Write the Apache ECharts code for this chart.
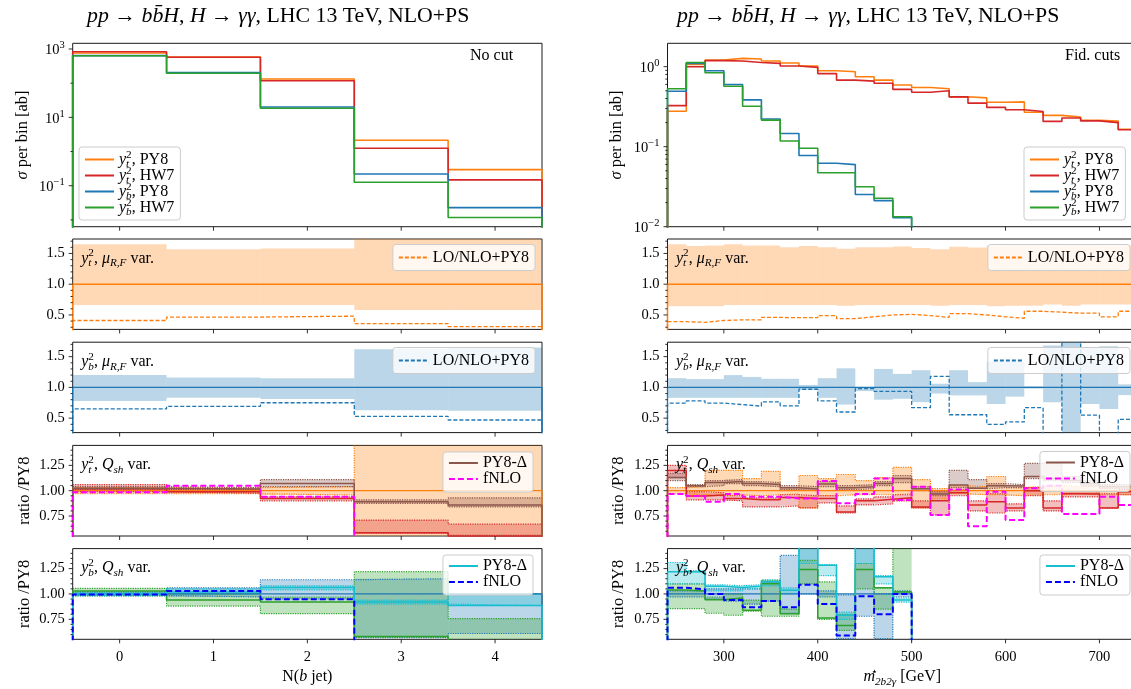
<!DOCTYPE html>
<html><head><meta charset="utf-8">
<script src="https://cdn.jsdelivr.net/npm/echarts@6/dist/echarts.min.js"></script>
<style>html,body{margin:0;padding:0;background:#fff}#c{width:1131px;height:689px}</style>
</head><body><div id="c"></div>
<script>
// ---------------- DATA ----------------
const L_EDGES = [-0.5, 0.5, 1.5, 2.5, 3.5, 4.5];
const R_EDGES = [240,260,280,300,320,340,360,380,400,420,440,460,480,500,520,540,560,580,600,620,640,660,680,700,720,740];
const R5_EDGES = [240,260,280,300,320,340,360,380,400,420,440,460,480,500];
const L_XTICKS = [0, 1, 2, 3, 4];
const R_XTICKS = [300, 400, 500, 600, 700];
const Y_TICKS_MU = [0.5, 1.0, 1.5];
const Y_TICKS_QSH = [0.75, 1.00, 1.25];

// panel 1 (sigma per bin)
const L1_yt_py8 = [760, 580, 133, 2.14, 0.295];
const L1_yt_hw7 = [830, 571, 118, 1.25, 0.148];
const L1_yb_py8 = [640, 203, 20.1, 0.221, 0.0229];
const L1_yb_hw7 = [635, 195, 18.5, 0.126, 0.0117];
const R1_yt_py8 = [0.277,1.07,1.21,1.27,1.25,1.18,1.11,1.02,0.89,0.865,0.75,0.68,0.59,0.55,0.53,0.42,0.407,0.36,0.363,0.27,0.246,0.234,0.214,0.209,0.165];
const R1_yt_hw7 = [0.326,1.00,1.19,1.18,1.13,1.10,1.02,0.98,0.82,0.68,0.66,0.62,0.52,0.48,0.50,0.42,0.35,0.31,0.29,0.275,0.207,0.228,0.21,0.20,0.163];
const R1_yb_py8 = [0.494,1.10,0.89,0.60,0.385,0.222,0.146,0.0775,0.062,0.0597,0.0253,0.0212,0.013,0,0,0,0,0,0,0,0,0,0,0,0];
const R1_yb_hw7 = [0.529,1.13,0.84,0.57,0.32,0.215,0.118,0.0957,0.0473,0.0473,0.0316,0.0227,0.0133,0,0,0,0,0,0,0,0,0,0,0,0];

// panel 2 (y_t^2 mu_RF variation)
const L2_ref = [1,1,1,1,1];
const L2_lo = [0.66,0.66,0.66,0.58,0.58];
const L2_hi = [1.65,1.57,1.58,1.80,1.80];
const L2_lonlo = [0.41,0.466,0.48,0.36,0.31];
const R2_ref = [1,1,1,1,1,1,1,1,1,1,1,1,1,1,1,1,1,1,1,1,1,1,1,1,1];
const R2_lo = [0.64,0.64,0.64,0.66,0.66,0.66,0.66,0.66,0.66,0.65,0.66,0.66,0.66,0.66,0.65,0.66,0.66,0.64,0.65,0.65,0.67,0.65,0.67,0.67,0.67];
const R2_hi = [1.65,1.62,1.63,1.65,1.63,1.63,1.60,1.62,1.60,1.575,1.60,1.60,1.615,1.59,1.57,1.61,1.595,1.63,1.64,1.64,1.63,1.64,1.65,1.63,1.63];
const R2_lonlo = [0.39,0.38,0.41,0.42,0.42,0.46,0.455,0.455,0.49,0.44,0.47,0.50,0.51,0.49,0.46,0.52,0.50,0.47,0.446,0.56,0.544,0.53,0.53,0.47,0.56];

// panel 3 (y_b^2 mu_RF variation)
const L3_ref = [1,1,1,1,1];
const L3_lo = [0.78,0.83,0.81,0.63,0.62];
const L3_hi = [1.20,1.16,1.15,1.62,1.65];
const L3_lonlo = [0.65,0.69,0.75,0.53,0.47];
const R3_ref = [1,1,1,1,1,1,1,1,1,1,1,1,1,1,1,1,1,1,1,1,1,1,1,1,1];
const R3_lo = [0.83,0.83,0.83,0.83,0.83,0.83,0.83,0.96,0.83,0.72,0.94,0.80,0.815,0.76,0.90,0.87,0.87,0.73,0.85,0.98,0.76,-1.0,0.73,0.65,0.875];
const R3_hi = [1.15,1.135,1.135,1.20,1.17,1.14,1.14,1.04,1.15,1.31,1.0,1.30,1.22,1.28,1.06,1.28,1.086,1.42,1.42,1.02,1.68,3.0,1.64,1.67,1.05];
const R3_lonlo = [0.745,0.78,0.745,0.72,0.695,0.766,0.70,0.97,0.78,0.60,0.98,0.935,0.935,0.67,1.18,0.555,0.555,0.40,0.44,0.67,0.1,3.0,0.55,0.1,0.48];

// panel 4 (y_t^2 Q_sh variation)
const L4_ref = [1,1,1,1,1];
const L4_orLo = [0.97,0.97,0.957,0.0,0.0];
const L4_orHi = [1.03,1.03,1.04,3.0,3.0];
const L4_hw7 = [1.02,0.99,0.924,0.585,0.55];
const L4_hw7Lo = [0.99,0.975,0.90,0.58,0.56];
const L4_hw7Hi = [1.06,1.01,0.94,0.71,0.67];
const L4_d = [1.023,1.016,1.07,0.89,0.86];
const L4_dLo = [1.01,1.0,1.04,0.875,0.84];
const L4_dHi = [1.04,1.03,1.11,0.91,0.93];
const L4_fnlo = [0.985,1.05,0.94,0.40,0.40];
const R4_ref = [1,1,1,1,1,1,1,1,1,1,1,1,1,1,1,1,1,1,1,1,1,1,1,1,1];
const R4_orLo = [0.97,0.96,0.95,0.96,0.95,0.96,0.97,0.83,0.95,0.96,0.96,0.96,0.97,0.83,0.92,0.97,0.96,0.96,0.95,0.96,0.96,0.97,0.96,0.96,0.96];
const R4_orHi = [1.03,1.04,1.20,1.20,1.12,1.19,1.03,1.15,1.12,1.16,1.10,1.13,1.23,1.11,1.02,1.05,1.04,1.14,1.03,1.04,1.05,1.04,1.05,1.04,1.03];
const R4_hw7 = [1.20,0.947,0.957,0.924,0.91,0.91,0.934,0.924,0.924,0.79,0.90,0.915,0.93,0.84,0.90,0.98,0.86,0.89,0.83,1.00,0.83,0.97,0.967,0.83,0.99];
const R4_hw7Lo = [1.13,0.91,0.91,0.90,0.84,0.84,0.85,0.83,0.88,0.78,0.86,0.87,0.90,0.83,0.76,0.95,0.80,0.78,0.80,0.95,0.80,0.94,0.94,0.83,0.96];
const R4_hw7Hi = [1.25,0.99,0.98,0.95,0.93,0.93,0.96,0.95,0.95,0.85,0.92,0.94,0.96,0.90,1.00,1.01,0.90,0.97,0.87,1.03,0.90,1.00,0.99,0.97,1.01];
const R4_d = [1.13,1.05,1.08,1.09,1.07,1.06,1.03,1.016,1.066,1.03,1.04,1.07,1.12,1.02,0.967,1.056,1.023,1.05,1.046,1.14,1.12,1.10,1.07,1.04,1.04];
const R4_dLo = [1.10,1.04,1.05,1.07,1.05,1.04,1.01,1.00,1.04,1.01,1.02,1.05,1.08,1.00,0.95,1.03,1.02,1.03,1.03,1.12,1.10,1.08,1.05,1.02,1.02];
const R4_dHi = [1.17,1.06,1.10,1.11,1.09,1.08,1.05,1.04,1.09,1.05,1.06,1.09,1.15,1.04,0.99,1.20,1.11,1.07,1.06,1.27,1.27,1.14,1.10,1.06,1.06];
const R4_fnlo = [0.967,0.947,0.89,0.967,0.94,0.94,0.924,0.924,1.095,0.875,0.967,1.12,0.908,1.04,0.76,1.013,0.65,0.99,0.71,1.023,1.05,0.77,0.77,0.94,0.86];

// panel 5 (y_b^2 Q_sh variation)
const L5_ref = [1,1,1,1,1];
const L5_blLo = [0.985,0.97,0.95,0.57,0.61];
const L5_blHi = [1.02,1.06,1.14,1.15,1.0];
const L5_hw7 = [1.03,0.94,0.92,0.58,0.50];
const L5_hw7Lo = [0.98,0.88,0.806,0.575,0.50];
const L5_hw7Hi = [1.055,1.0,0.97,1.22,0.757];
const L5_d = [1.0,1.02,1.063,0.92,0.885];
const L5_dLo = [0.98,1.0,1.04,0.90,0.885];
const L5_dHi = [1.02,1.05,1.08,0.94,1.0];
const L5_fnlo = [0.995,1.03,0.947,0.40,0.40];
const R5_ref = [1,1,1,1,1,1,1,1,1,1,1,1,1];
const R5_blLo = [0.97,0.97,0.95,0.93,0.90,0.93,0.81,1.0,0.97,0.56,0.78,0.56,0.97];
const R5_blHi = [1.03,1.03,1.05,1.05,1.05,1.12,1.38,1.6,1.03,0.99,1.6,1.0,1.03];
const R5_hw7 = [1.04,1.03,0.944,0.96,0.84,1.10,0.806,1.24,0.763,0.69,1.24,1.06,1.02];
const R5_hw7Lo = [0.855,0.855,0.81,0.79,0.83,0.78,0.78,1.10,0.75,0.64,1.05,0.85,1.02];
const R5_hw7Hi = [1.10,1.10,0.97,1.0,0.94,1.135,0.85,1.33,1.12,0.80,1.30,1.06,1.6];
const R5_d = [1.22,1.217,1.076,1.063,1.076,1.12,1.036,1.6,1.283,0.79,1.6,1.17,0.94];
const R5_dLo = [1.10,1.10,1.03,1.03,1.05,1.08,1.0,1.30,1.18,0.75,1.30,1.10,0.92];
const R5_dHi = [1.31,1.23,1.09,1.08,1.09,1.14,1.06,1.6,1.29,0.82,1.6,1.18,0.96];
const R5_fnlo = [1.06,1.046,1.0,0.94,0.87,0.93,0.87,1.09,0.90,0.59,0.977,0.80,1.0];

// ---------------- STYLE / LAYOUT ----------------
const FONT = "'Liberation Serif', 'DejaVu Serif', serif";
const C = {orange:'#ff7f0e', red:'#d62728', blue:'#1f77b4', green:'#2ca02c', brown:'#8c564b', magenta:'#ff00ff', cyan:'#17becf', fblue:'#0000ff'};
function rgba(hex, a){const n=parseInt(hex.slice(1),16);return 'rgba('+(n>>16&255)+','+(n>>8&255)+','+(n&255)+','+a+')';}
function mkRich(fs, lh){
  const sfs = Math.round(fs*0.7*10)/10;
  const base = {fontFamily:FONT, fontWeight:'normal', color:'#000', lineHeight:lh};
  return {
    n: Object.assign({}, base, {fontSize:fs}),
    i: Object.assign({}, base, {fontSize:fs, fontStyle:'italic'}),
    sb0: Object.assign({}, base, {fontSize:sfs, fontStyle:'italic', verticalAlign:'bottom', width:0}),
    sb: Object.assign({}, base, {fontSize:sfs, fontStyle:'italic', verticalAlign:'bottom'}),
    sp: Object.assign({}, base, {fontSize:sfs, verticalAlign:'top'}),
    sp0: Object.assign({}, base, {fontSize:sfs, verticalAlign:'top', width:0})
  };
}
const RICH16 = mkRich(16, 21);
const RICH21 = mkRich(21.8, 26);
const COLX = [{left:72.7, width:469.3, min:-0.5, max:4.5, ticks:L_XTICKS},
              {left:667.5, width:469.5, min:240, max:740, ticks:R_XTICKS}];
const ROWY = [{top:43.3,height:183.4},{top:239,height:90.4},{top:342.2,height:90.4},{top:445.4,height:90.6},{top:548.6,height:90.7}];
const g = (c, r) => c*5 + r;

const grids=[], xAxes=[], yAxes=[], series=[], legends=[], titles=[];
function logLabel(oddOnly){
  return function(v){
    const e = Math.log10(v), r = Math.round(e);
    if (Math.abs(e-r) > 0.02) return '';
    if (oddOnly && Math.abs(r)%2 === 0) return '';
    return '{b|10}{s|' + (r<0?'−':'') + Math.abs(r) + '}';
  };
}
const YRANGE = [
  [{min:0.00632, max:1468}, {min:0.01, max:1.96}],
  [{min:0.265, max:1.735}, {min:0.265, max:1.735}],
  [{min:0.265, max:1.735}, {min:0.265, max:1.735}],
  [{min:0.553, max:1.447}, {min:0.553, max:1.447}],
  [{min:0.553, max:1.447}, {min:0.553, max:1.447}]
];

function tickSeries(gi, items){
  series.push({type:'custom', xAxisIndex:gi, yAxisIndex:gi, silent:true, clip:false, z:10, animation:false,
    data:items, encode:{x:0, y:1},
    renderItem:function(params, api){
      const c = api.coord([api.value(0), api.value(1)]);
      const d = api.value(2), L = api.value(3);
      const shape = d === 0 ? {x1:c[0]-L, y1:c[1], x2:c[0], y2:c[1]} : {x1:c[0], y1:c[1], x2:c[0], y2:c[1]+L};
      return {type:'line', shape:shape, style:{stroke:'#1a1a1a', lineWidth:0.9}};
    }});
}

for (let c = 0; c < 2; c++) {
  for (let r = 0; r < 5; r++) {
    const gi = g(c, r);
    const cx = COLX[c], ry = ROWY[r], yr = YRANGE[r][c];
    grids.push({left:cx.left, width:cx.width, top:ry.top, height:ry.height, show:true,
      borderColor:'#1a1a1a', borderWidth:1, backgroundColor:'transparent', containLabel:false, outerBoundsMode:'none'});
    const xa = {gridIndex:gi, type:'value', min:cx.min, max:cx.max,
      axisLine:{show:false}, axisTick:{show:false}, splitLine:{show:false},
      axisLabel:{show:r===4, customValues:cx.ticks, margin:10, fontSize:14.5, fontFamily:FONT, color:'#000',
        formatter:function(v){return String(v);}}};
    if (r === 4) {
      xa.name = c === 0 ? '{n|N(}{i|b}{n| jet)}' : '{i|m}{sp0|⋆}{sb|2b2γ}{n| [GeV]}';
      xa.nameLocation = 'middle'; xa.nameGap = 27;
      xa.nameTextStyle = {fontFamily:FONT, fontSize:16, color:'#000', rich:RICH16};
    }
    xAxes.push(xa);
    const ya = {gridIndex:gi, min:yr.min, max:yr.max, axisLine:{show:false}, axisTick:{show:false}, splitLine:{show:false}};
    if (r === 0) {
      ya.type = 'log'; ya.logBase = 10;
      ya.axisLabel = {margin:8, fontFamily:FONT, color:'#000', formatter:logLabel(c===0),
        rich:{b:{fontSize:14.5, fontFamily:FONT, color:'#000', lineHeight:18, verticalAlign:'bottom'},
              s:{fontSize:10.5, fontFamily:FONT, color:'#000', lineHeight:18, verticalAlign:'top'}}};
      ya.name = '{i|σ}{n| per bin [ab]}';
    } else {
      ya.type = 'value';
      const tv = r <= 2 ? Y_TICKS_MU : Y_TICKS_QSH;
      ya.splitNumber = 3;
      ya.axisLabel = {customValues:tv, margin:8, fontSize:14.5, fontFamily:FONT, color:'#000',
        formatter:function(v){return v.toFixed(r<=2?1:2);}};
      if (r >= 3) ya.name = 'ratio /PY8';
    }
    if (ya.name) {
      ya.nameLocation = 'middle'; ya.nameGap = 40; ya.nameRotate = 90;
      ya.nameTextStyle = {fontFamily:FONT, fontSize:16.5, color:'#000', rich:mkRich(16.5, 21)};
    }
    yAxes.push(ya);

    // ticks
    const items = [];
    const ymin = yr.min, xmin = cx.min;
    cx.ticks.forEach(t => items.push([t, ymin, 1, 4]));
    if (r === 0) {
      for (let e = -3; e <= 3; e++) {
        const major = c === 0 ? (Math.abs(e)%2 === 1) : true;
        const v0 = Math.pow(10, e);
        if (v0 >= yr.min && v0 <= yr.max) items.push([xmin, v0, 0, major ? 4 : 2.2]);
        if (c === 1) for (let k = 2; k <= 9; k++) { const v = k*v0; if (v > yr.min && v < yr.max) items.push([xmin, v, 0, 2.2]); }
      }
    } else {
      const tv = r <= 2 ? Y_TICKS_MU : Y_TICKS_QSH;
      tv.forEach(t => items.push([xmin, t, 0, 4]));
      const step = r <= 2 ? 0.1 : 0.05;
      for (let k = Math.ceil(yr.min/step); k*step < yr.max; k++) {
        const v = Math.round(k*step*1000)/1000;
        if (tv.some(t => Math.abs(t-v) < 1e-6)) continue;
        items.push([xmin, v, 0, 2.2]);
      }
    }
    tickSeries(gi, items);
  }
}

// ---------------- SERIES HELPERS ----------------
function stepSeries(gi, name, edges, vals, color, o){
  o = o || {};
  const n = vals.length;
  const fix = v => (o.log ? (v > 0 ? v : 1e-6) : v);
  const pts = [];
  if (o.base != null) pts.push([edges[0], o.base]);
  for (let i = 0; i < n; i++) pts.push([edges[i], fix(vals[i])]);
  pts.push([edges[n], fix(vals[n-1])]);
  if (o.base != null) pts.push([edges[n], o.base]);
  const s = {type:'line', xAxisIndex:gi, yAxisIndex:gi, data:pts, step:'end', symbol:'none', showSymbol:false,
    silent:true, clip:true, z:o.z || 3, animation:false, itemStyle:{color:color},
    lineStyle:{color:color, width:o.width || 1.5, type:o.type || 'solid'}, emphasis:{disabled:true}};
  if (name) s.name = name;
  series.push(s);
}
function bandSeries(gi, edges, lo, hi, fill){
  series.push({type:'custom', xAxisIndex:gi, yAxisIndex:gi, silent:true, clip:false, z:1, animation:false,
    data:lo.map((v, i) => [edges[i], edges[i+1], v, hi[i]]), encode:{x:[0,1], y:[2,3]},
    renderItem:function(params, api){
      const a = api.coord([api.value(0), api.value(3)]);
      const b = api.coord([api.value(1), api.value(2)]);
      const cs = params.coordSys;
      const x0 = Math.max(Math.min(a[0],b[0]), cs.x), x1 = Math.min(Math.max(a[0],b[0]), cs.x+cs.width);
      const y0 = Math.max(Math.min(a[1],b[1]), cs.y), y1 = Math.min(Math.max(a[1],b[1]), cs.y+cs.height);
      if (x1 <= x0 || y1 <= y0) return {type:'group', children:[]};
      return {type:'rect', shape:{x:x0, y:y0, width:x1-x0, height:y1-y0}, style:{fill:fill}};
    }});
}
function dottedBand(gi, edges, lo, hi, color, alpha){
  bandSeries(gi, edges, lo, hi, rgba(color, alpha));
  stepSeries(gi, null, edges, lo, color, {type:'dotted', width:1.2, z:2});
  stepSeries(gi, null, edges, hi, color, {type:'dotted', width:1.2, z:2});
}

// ---------------- PANELS ----------------
const DASH_LO = [4, 2];
const DASH_FN = [6, 3];
// row 0
stepSeries(g(0,0), 'L1a', L_EDGES, L1_yt_py8, C.orange, {log:true, base:1e-6, width:1.6});
stepSeries(g(0,0), 'L1b', L_EDGES, L1_yt_hw7, C.red, {log:true, base:1e-6, width:1.6});
stepSeries(g(0,0), 'L1c', L_EDGES, L1_yb_py8, C.blue, {log:true, base:1e-6, width:1.6});
stepSeries(g(0,0), 'L1d', L_EDGES, L1_yb_hw7, C.green, {log:true, base:1e-6, width:1.6});
stepSeries(g(1,0), 'R1a', R_EDGES, R1_yt_py8, C.orange, {log:true, base:1e-6, width:1.6});
stepSeries(g(1,0), 'R1b', R_EDGES, R1_yt_hw7, C.red, {log:true, base:1e-6, width:1.6});
stepSeries(g(1,0), 'R1c', R_EDGES, R1_yb_py8, C.blue, {log:true, base:1e-6, width:1.6});
stepSeries(g(1,0), 'R1d', R_EDGES, R1_yb_hw7, C.green, {log:true, base:1e-6, width:1.6});
// row 1
bandSeries(g(0,1), L_EDGES, L2_lo, L2_hi, rgba(C.orange, 0.3));
stepSeries(g(0,1), null, L_EDGES, L2_ref, C.orange, {base:0, width:1.5});
stepSeries(g(0,1), 'L2a', L_EDGES, L2_lonlo, C.orange, {base:0, width:1.3, type:DASH_LO});
bandSeries(g(1,1), R_EDGES, R2_lo, R2_hi, rgba(C.orange, 0.3));
stepSeries(g(1,1), null, R_EDGES, R2_ref, C.orange, {base:0, width:1.5});
stepSeries(g(1,1), 'R2a', R_EDGES, R2_lonlo, C.orange, {base:0, width:1.3, type:DASH_LO});
// row 2
bandSeries(g(0,2), L_EDGES, L3_lo, L3_hi, rgba(C.blue, 0.3));
stepSeries(g(0,2), null, L_EDGES, L3_ref, C.blue, {base:0, width:1.3});
stepSeries(g(0,2), 'L3a', L_EDGES, L3_lonlo, C.blue, {base:0, width:1.3, type:DASH_LO});
bandSeries(g(1,2), R_EDGES, R3_lo, R3_hi, rgba(C.blue, 0.3));
stepSeries(g(1,2), null, R_EDGES, R3_ref, C.blue, {base:0, width:1.3});
stepSeries(g(1,2), 'R3a', R_EDGES, R3_lonlo, C.blue, {base:0, width:1.3, type:DASH_LO});
// row 3
dottedBand(g(0,3), L_EDGES, L4_orLo, L4_orHi, C.orange, 0.3);
dottedBand(g(0,3), L_EDGES, L4_hw7Lo, L4_hw7Hi, C.red, 0.3);
dottedBand(g(0,3), L_EDGES, L4_dLo, L4_dHi, C.brown, 0.3);
stepSeries(g(0,3), null, L_EDGES, L4_ref, C.orange, {base:0, width:1.2});
stepSeries(g(0,3), null, L_EDGES, L4_hw7, C.red, {base:0, width:1.5});
stepSeries(g(0,3), 'L4a', L_EDGES, L4_d, C.brown, {base:0, width:1.5});
stepSeries(g(0,3), 'L4b', L_EDGES, L4_fnlo, C.magenta, {base:0, width:2, type:DASH_FN});
dottedBand(g(1,3), R_EDGES, R4_orLo, R4_orHi, C.orange, 0.3);
dottedBand(g(1,3), R_EDGES, R4_hw7Lo, R4_hw7Hi, C.red, 0.3);
dottedBand(g(1,3), R_EDGES, R4_dLo, R4_dHi, C.brown, 0.3);
stepSeries(g(1,3), null, R_EDGES, R4_ref, C.orange, {base:0, width:1.2});
stepSeries(g(1,3), null, R_EDGES, R4_hw7, C.red, {base:0, width:1.5});
stepSeries(g(1,3), 'R4a', R_EDGES, R4_d, C.brown, {base:0, width:1.5});
stepSeries(g(1,3), 'R4b', R_EDGES, R4_fnlo, C.magenta, {base:0, width:2, type:DASH_FN});
// row 4
dottedBand(g(0,4), L_EDGES, L5_blLo, L5_blHi, C.blue, 0.3);
dottedBand(g(0,4), L_EDGES, L5_hw7Lo, L5_hw7Hi, C.green, 0.3);
dottedBand(g(0,4), L_EDGES, L5_dLo, L5_dHi, C.cyan, 0.3);
stepSeries(g(0,4), null, L_EDGES, L5_ref, C.blue, {base:0, width:1.2});
stepSeries(g(0,4), null, L_EDGES, L5_hw7, C.green, {base:0, width:1.5});
stepSeries(g(0,4), 'L5a', L_EDGES, L5_d, C.cyan, {base:0, width:1.5});
stepSeries(g(0,4), 'L5b', L_EDGES, L5_fnlo, C.fblue, {base:0, width:2, type:DASH_FN});
dottedBand(g(1,4), R5_EDGES, R5_blLo, R5_blHi, C.blue, 0.3);
dottedBand(g(1,4), R5_EDGES, R5_hw7Lo, R5_hw7Hi, C.green, 0.3);
dottedBand(g(1,4), R5_EDGES, R5_dLo, R5_dHi, C.cyan, 0.3);
stepSeries(g(1,4), null, R5_EDGES, R5_ref, C.blue, {base:0, width:1.2});
stepSeries(g(1,4), null, R5_EDGES, R5_hw7, C.green, {base:0, width:1.5});
stepSeries(g(1,4), 'R5a', R5_EDGES, R5_d, C.cyan, {base:0, width:1.5});
stepSeries(g(1,4), 'R5b', R5_EDGES, R5_fnlo, C.fblue, {base:0, width:2, type:DASH_FN});

// ---------------- LEGENDS ----------------
const YT2 = '{i|y}{sb0|t}{sp|2}';
const YB2 = '{i|y}{sb0|b}{sp|2}';
const DISP = {
  L1a:YT2+'{n|, PY8}', L1b:YT2+'{n|, HW7}', L1c:YB2+'{n|, PY8}', L1d:YB2+'{n|, HW7}',
  R1a:YT2+'{n|, PY8}', R1b:YT2+'{n|, HW7}', R1c:YB2+'{n|, PY8}', R1d:YB2+'{n|, HW7}',
  L2a:'{n|LO/NLO+PY8}', R2a:'{n|LO/NLO+PY8}', L3a:'{n|LO/NLO+PY8}', R3a:'{n|LO/NLO+PY8}',
  L4a:'{n|PY8-Δ}', L4b:'{n|fNLO}', R4a:'{n|PY8-Δ}', R4b:'{n|fNLO}',
  L5a:'{n|PY8-Δ}', L5b:'{n|fNLO}', R5a:'{n|PY8-Δ}', R5b:'{n|fNLO}'
};
const RICH_LEG = mkRich(16, 20);
const RICH_LEG2 = mkRich(16, 15);
function legend(names, pos, rich, gap, pad){
  legends.push(Object.assign({data:names, orient:'vertical', itemWidth:29, itemHeight:10, itemGap:gap,
    padding:pad, backgroundColor:'rgba(255,255,255,0.8)', borderColor:'#cccccc', borderWidth:1, borderRadius:3,
    selectedMode:false, itemStyle:{opacity:0}, inactiveColor:'#ccc',
    textStyle:{fontFamily:FONT, fontSize:16, color:'#000', rich:rich},
    formatter:function(n){return DISP[n] || n;}}, pos));
}
legend(['L1a','L1b','L1c','L1d'], {left:79, top:147}, RICH_LEG, -4, [2.5,6,2.5,5]);
legend(['R1a','R1b','R1c','R1d'], {left:1024, top:147}, RICH_LEG, -4, [2.5,6,2.5,5]);
legend(['L2a'], {right:596, top:244.5}, RICH_LEG2, 0, [5,6,5,5]);
legend(['R2a'], {right:1, top:244.5}, RICH_LEG2, 0, [5,6,5,5]);
legend(['L3a'], {right:596, top:347.5}, RICH_LEG2, 0, [5,6,5,5]);
legend(['R3a'], {right:1, top:347.5}, RICH_LEG2, 0, [5,6,5,5]);
legend(['L4a','L4b'], {right:598, top:452}, RICH_LEG2, 0, [3,6,5,5]);
legend(['R4a','R4b'], {right:1, top:451.5}, RICH_LEG2, 0, [3,6,5,5]);
legend(['L5a','L5b'], {right:598, top:555}, RICH_LEG2, 0, [3,6,5,5]);
legend(['R5a','R5b'], {right:1, top:555}, RICH_LEG2, 0, [3,6,5,5]);

// ---------------- TEXTS ----------------
const TITLE = '{i|pp}{n| → }{i|b}{i|b\u0304}{i|H}{n|, }{i|H}{n| → }{i|γγ}{n|, LHC 13 TeV, NLO+PS}';
function txt(text, left, top, rich, align){
  titles.push({text:text, left:left, top:top, padding:0, textAlign:align || 'left',
    textStyle:{fontFamily:FONT, fontSize:16, fontWeight:'normal', color:'#000', rich:rich}});
}
txt(TITLE, 87, 3, RICH21);
txt(TITLE, 677, 3, RICH21);
txt('{n|No cut}', 470, 45.5, RICH16);
txt('{n|Fid. cuts}', 1065, 45.5, RICH16);
const ANN = [
  YT2 + '{n|, }{i|μ}{sb|R,F}{n| var.}',
  YB2 + '{n|, }{i|μ}{sb|R,F}{n| var.}',
  YT2 + '{n|, }{i|Q}{sb|sh}{n| var.}',
  YB2 + '{n|, }{i|Q}{sb|sh}{n| var.}'
];
for (let c = 0; c < 2; c++) for (let r = 1; r < 5; r++) {
  txt(ANN[r-1], COLX[c].left + 8.5, ROWY[r].top + 9, RICH16);
}

const chart = echarts.init(document.getElementById('c'), null, {renderer:'canvas', width:1131, height:689});
chart.setOption({
  animation:false,
  backgroundColor:'#ffffff',
  textStyle:{fontFamily:FONT},
  title:titles, grid:grids, xAxis:xAxes, yAxis:yAxes, legend:legends, series:series, tooltip:{show:false}
});
</script></body></html>
